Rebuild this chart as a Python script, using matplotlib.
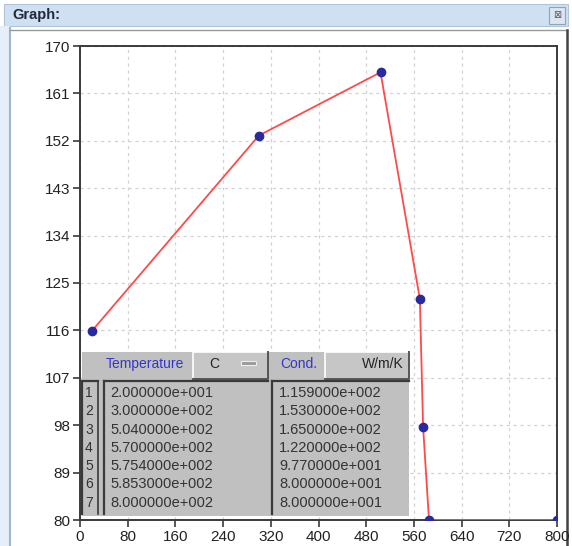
"""Graph window: thermal conductivity vs temperature with its input table."""
import math
import matplotlib.pyplot as plt
import matplotlib.patches as patches

W, H = 572, 546

# data (from the table in the window)
temps = [20.0, 300.0, 504.0, 570.0, 575.4, 585.3, 800.0]
conds = [115.9, 153.0, 165.0, 122.0, 97.7, 80.0, 80.0]
xticks = list(range(0, 801, 80))
yticks = list(range(80, 171, 9))
col_names = ["Temperature", "Cond."]
col_units = ["C", "W/m/K"]

plt.rcParams['font.family'] = ['Liberation Sans', 'DejaVu Sans']

GREY = "#c0c0c0"
DARK = "#3a3a3a"
BLUE_TXT = "#3535c8"


def sci(v):
    e = int(math.floor(math.log10(abs(v))))
    m = v / 10 ** e
    return f"{m:.6f}e{'+' if e >= 0 else '-'}{abs(e):03d}"


fig = plt.figure(figsize=(W / 100, H / 100), dpi=100, facecolor="white")

# background axes in pixel coords (window chrome)
bg = fig.add_axes([0, 0, 1, 1], zorder=0)
bg.set_xlim(0, W)
bg.set_ylim(H, 0)
bg.axis("off")
bg.add_patch(patches.Rectangle((4, 4), 564, 22, facecolor="#cfe0f2", edgecolor="#b0c4dc", lw=0.8))
bg.text(12, 15, "Graph:", fontsize=10.5, fontweight="bold", color="#1e2a3a", va="center")
bg.add_patch(patches.Rectangle((549, 7), 16, 17, facecolor="#dbe6f2", edgecolor="#8fa2b8", lw=0.8))
bg.text(557, 15.5, "⊠", fontsize=7, color="#556", ha="center", va="center")
bg.add_patch(patches.Rectangle((0, 26), 10, H - 26, facecolor="#e6eef7", edgecolor="none"))
bg.plot([10, 10], [28, H], color="#9fb6cf", lw=1.5)
bg.plot([10, 567], [30, 30], color="#9a9a9a", lw=1)
bg.plot([567, 567], [30, H], color="#444444", lw=1.8)

# main plot
ax = fig.add_axes([80 / W, 1 - 520 / H, 477 / W, 474 / H], zorder=1)
ax.set_facecolor("white")
ax.plot(temps, conds, color="#ff4a4a", lw=1.3, zorder=3)
ax.plot(temps, conds, "o", color="#2a2aa0", ms=6, zorder=4)
ax.set_xlim(0, 800)
ax.set_ylim(80, 170)
ax.set_xticks(xticks)
ax.set_yticks(yticks)
ax.grid(True, color="#d2d2d2", ls=(0, (2.5, 3)), lw=0.9)
for s in ax.spines.values():
    s.set_color(DARK)
    s.set_linewidth(1.4)
ax.tick_params(direction="out", length=5, width=1.2, color=DARK,
               labelsize=11, labelcolor="#222222", pad=2)

# overlay axes for the table (pixel coords)
ov = fig.add_axes([0, 0, 1, 1], zorder=2)
ov.set_xlim(0, W)
ov.set_ylim(H, 0)
ov.axis("off")
ov.patch.set_alpha(0)

L, R, T, B = 82, 409, 352, 516
ov.add_patch(patches.Rectangle((L, T), R - L, B - T, facecolor=GREY, edgecolor="none"))

# header cells
hy0, hy1 = T, 379
ov.text(106, 364, col_names[0], fontsize=10, color=BLUE_TXT, va="center")
ov.text(280, 364, col_names[1], fontsize=10, color=BLUE_TXT, va="center")
for x0, x1 in [(193, 268), (325, 409)]:
    ov.add_patch(patches.Rectangle((x0, hy0), x1 - x0, hy1 - hy0, facecolor="#c6c6c6", edgecolor="none"))
    ov.plot([x0, x0, x1], [hy1, hy0, hy0], color="white", lw=1.2)
    ov.plot([x0, x1, x1], [hy1, hy1, hy0], color="#555555", lw=1.4)
ov.text(214, 364, col_units[0], fontsize=10, color="#222222", ha="center", va="center")
ov.add_patch(patches.Rectangle((241, 361), 15, 4, facecolor="#9a9a9a", edgecolor="#eeeeee", lw=0.8))
ov.text(404, 364, col_units[1], fontsize=10, color="#222222", ha="right", va="center")

# body boxes
by0, by1 = 381, 514
for x0, x1 in [(82, 98), (104, 268), (272, 409)]:
    ov.plot([x0, x0], [by1, by0], color=DARK, lw=1.6)
    ov.plot([x0, x1], [by0, by0], color=DARK, lw=1.6)
ov.plot([98, 98], [by0, by1], color=DARK, lw=1.2)

row_y0, row_dy = 393, 18.3
for i, (t, c) in enumerate(zip(temps, conds)):
    y = row_y0 + i * row_dy
    ov.text(85, y, str(i + 1), fontsize=10, color="#333333", va="center")
    ov.text(110, y, sci(t), fontsize=10.5, color="#333333", va="center")
    ov.text(279, y, sci(c), fontsize=10.5, color="#333333", va="center")

fig.savefig("out.png", dpi=100, facecolor="white")
